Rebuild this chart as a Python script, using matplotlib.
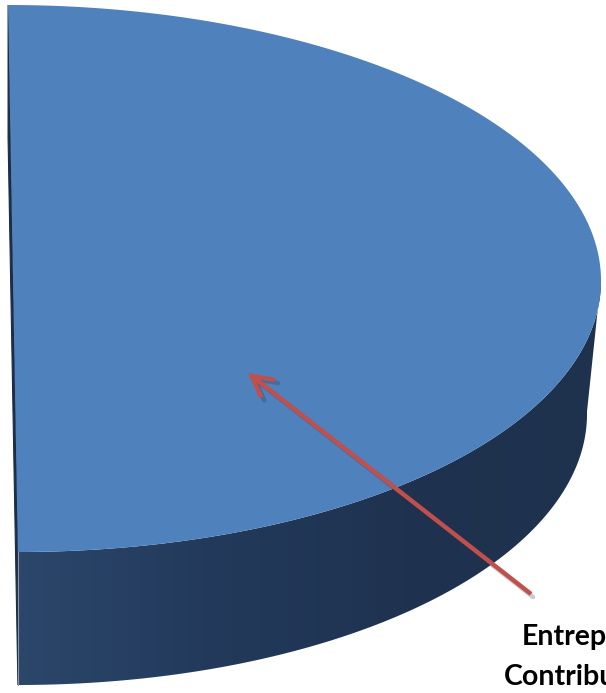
import numpy as np
import matplotlib
matplotlib.use("Agg")
import matplotlib.pyplot as plt
from matplotlib.patches import Polygon
from matplotlib.colors import LinearSegmentedColormap

# pie data (only the first slice is visible in the crop)
slice_values = [50.0, 50.0]
slice_colors = ["#4F81BD", "#C0504D"]
label_lines = ["Entrepreneur", "Contribution"]

# 3D pie geometry, in pixels
cx, cy = 13, 278.5
rx, ry = 588, 273.5
rx_bot, ry_bot = 574, 273.5
depth = 133
shear = 0.018

frac = slice_values[0] / sum(slice_values)
t0 = 90.0
t1 = t0 - 360.0 * frac


def arc(a, b, yc, start, stop, n=300):
    t = np.radians(np.linspace(start, stop, n))
    y = yc - b * np.sin(t)
    x = cx + a * np.cos(t) + shear * (y - yc)
    return np.column_stack([x, y])


fig = plt.figure(figsize=(6.06, 6.93), dpi=100)
ax = fig.add_axes([0, 0, 1, 1])
ax.set_xlim(0, 606)
ax.set_ylim(693, 0)
ax.axis("off")

# side face (front part of the outer rim)
top_front = arc(rx, ry, cy, 0, t1)
bot_front = arc(rx_bot, ry_bot, cy + depth, t1, 0)
side = Polygon(np.vstack([top_front, bot_front]), closed=True, facecolor="none", edgecolor="none")
ax.add_patch(side)
grad = np.linspace(0, 1, 256).reshape(1, -1)
cmap = LinearSegmentedColormap.from_list("side", ["#2C486C", "#233A5C", "#1F3350", "#1E314D"])
im = ax.imshow(grad, cmap=cmap, extent=(0, 606, 693, 0), aspect="auto", zorder=1)
im.set_clip_path(side)

# thin cut face along the left edge
p_top = arc(rx, ry, cy, t0, t0, 1)[0]
p_bot = arc(rx, ry, cy, t1, t1, 1)[0]
cut = np.array([p_top, p_bot, p_bot + [0, depth], p_top + [0, depth]])
ax.add_patch(Polygon(cut, closed=True, facecolor="#1B2D47", edgecolor="#1B2D47", lw=0.8, zorder=2))
ax.plot([p_bot[0], p_bot[0]], [p_bot[1], p_bot[1] + depth], color="#8A96A6", lw=0.8, zorder=3)

# top face of the slice
top = np.vstack([[cx, cy], arc(rx, ry, cy, t0, t1)])
ax.add_patch(Polygon(top, closed=True, facecolor=slice_colors[0], edgecolor="none", zorder=4))

# arrow (with a soft shadow) and label
arrow_style = "->,head_length=1.5,head_width=0.8"
ax.annotate("", xy=(251, 376), xytext=(533, 597),
            arrowprops=dict(arrowstyle=arrow_style, color="#303030", lw=3.2, alpha=0.25,
                            shrinkA=0, shrinkB=0, capstyle="round", joinstyle="miter"),
            zorder=5)
ax.annotate("", xy=(248, 373), xytext=(531, 594),
            arrowprops=dict(arrowstyle=arrow_style, color=slice_colors[1], lw=3.2,
                            shrinkA=0, shrinkB=0, capstyle="butt", joinstyle="miter"),
            zorder=6)

ax.text(522, 645, label_lines[0], fontsize=20.5, fontweight="bold",
        family=["Lato", "DejaVu Sans"], color="black", ha="left", va="baseline", zorder=7)
ax.text(504, 685, label_lines[1], fontsize=20.5, fontweight="bold",
        family=["Lato", "DejaVu Sans"], color="black", ha="left", va="baseline", zorder=7)

fig.savefig("out.png", dpi=100)
